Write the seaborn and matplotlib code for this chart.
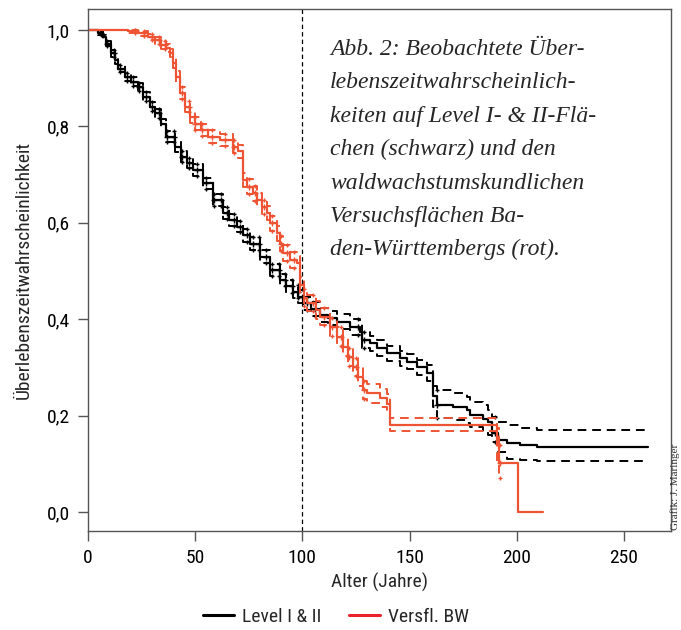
import os
import numpy as np
import pandas as pd
import matplotlib
matplotlib.use("Agg")
import matplotlib.pyplot as plt
from matplotlib import font_manager as fm
from matplotlib.lines import Line2D
import seaborn as sns

# ---------------- data ----------------
black_t = [0, 4.7, 7.0, 8.5, 10.9, 12.4, 14.0, 17.1, 20.2, 23.3,
           25.7, 28.8, 31.1, 34.2, 36.5, 40.4, 43.5, 46.0, 49.1, 53.8,
           58.4, 63.1, 66.0, 69.4, 72.5, 75.6, 80.2, 84.9, 89.6, 92.5,
           95.8, 98.1, 100.4, 104.0, 108.2, 112.0, 116.0, 122.2, 126.9, 128.0,
           131.5, 135.0, 139.3, 145.5, 149.0, 153.3, 158.0, 161.1, 162.6, 170.4,
           176.6, 178.2, 184.4, 186.7, 188.3, 191.4, 195.3, 201.5, 209.3, 261.3]
black_s = [1.000, 0.993, 0.985, 0.972, 0.952, 0.938, 0.920, 0.903, 0.893, 0.882,
           0.862, 0.841, 0.827, 0.806, 0.779, 0.758, 0.737, 0.724, 0.710, 0.682,
           0.647, 0.620, 0.606, 0.592, 0.574, 0.557, 0.530, 0.502, 0.481, 0.468,
           0.457, 0.447, 0.433, 0.421, 0.409, 0.402, 0.395, 0.384, 0.374, 0.357,
           0.350, 0.340, 0.329, 0.319, 0.312, 0.300, 0.288, 0.240, 0.222, 0.218,
           0.212, 0.201, 0.194, 0.187, 0.163, 0.149, 0.143, 0.139, 0.134, 0.134]
black_hi = [1.000, 0.997, 0.990, 0.978, 0.959, 0.946, 0.928, 0.911, 0.902, 0.891,
            0.871, 0.851, 0.837, 0.816, 0.790, 0.769, 0.748, 0.735, 0.722, 0.694,
            0.659, 0.632, 0.618, 0.604, 0.587, 0.570, 0.543, 0.515, 0.494, 0.481,
            0.470, 0.460, 0.447, 0.436, 0.424, 0.417, 0.410, 0.400, 0.390, 0.373,
            0.366, 0.356, 0.345, 0.335, 0.328, 0.316, 0.304, 0.262, 0.253, 0.246,
            0.238, 0.229, 0.222, 0.212, 0.198, 0.187, 0.180, 0.174, 0.170, 0.170]
black_lo = [1.000, 0.989, 0.980, 0.966, 0.945, 0.930, 0.912, 0.895, 0.884, 0.873,
            0.853, 0.831, 0.817, 0.796, 0.768, 0.747, 0.726, 0.713, 0.698, 0.670,
            0.635, 0.608, 0.594, 0.580, 0.561, 0.544, 0.517, 0.489, 0.468, 0.455,
            0.444, 0.434, 0.419, 0.406, 0.394, 0.387, 0.380, 0.368, 0.358, 0.341,
            0.334, 0.324, 0.313, 0.303, 0.296, 0.284, 0.272, 0.218, 0.196, 0.190,
            0.184, 0.177, 0.167, 0.160, 0.146, 0.125, 0.111, 0.108, 0.105, 0.105]

red_t = [0, 18.7, 23.3, 28.0, 31.1, 34.2, 36.5, 38.1, 39.6, 41.2,
         42.8, 45.1, 47.4, 49.8, 52.9, 56.0, 61.6, 67.8, 70.1, 72.4,
         74.0, 77.1, 78.7, 81.0, 83.3, 84.9, 88.0, 89.6, 91.1, 94.2,
         97.3, 99.0, 100.8, 102.0, 106.6, 108.2, 112.9, 116.0, 119.0, 121.4,
         123.7, 126.1, 128.4, 130.0, 136.2, 139.3, 140.9, 190.6, 191.6, 196.0,
         200.8, 212.4]
red_s = [1.000, 0.998, 0.993, 0.986, 0.979, 0.969, 0.962, 0.952, 0.931, 0.903,
         0.869, 0.841, 0.820, 0.806, 0.793, 0.779, 0.772, 0.758, 0.748, 0.689,
         0.675, 0.661, 0.647, 0.633, 0.620, 0.599, 0.578, 0.557, 0.537, 0.523,
         0.516, 0.470, 0.445, 0.433, 0.419, 0.405, 0.384, 0.364, 0.343, 0.322,
         0.301, 0.281, 0.253, 0.246, 0.236, 0.225, 0.180, 0.140, 0.101, 0.101,
         0.000, 0.000]
red_hi = [1.000, 1.000, 0.998, 0.992, 0.986, 0.977, 0.970, 0.961, 0.941, 0.914,
          0.881, 0.853, 0.833, 0.819, 0.806, 0.792, 0.785, 0.772, 0.762, 0.704,
          0.690, 0.676, 0.662, 0.648, 0.635, 0.615, 0.594, 0.573, 0.553, 0.539,
          0.532, 0.487, 0.462, 0.450, 0.437, 0.423, 0.402, 0.383, 0.362, 0.341,
          0.320, 0.300, 0.272, 0.265, 0.255, 0.244, 0.195, 0.175, 0.140, np.nan,
          np.nan, np.nan]
red_lo = [1.000, 0.994, 0.988, 0.980, 0.972, 0.961, 0.954, 0.943, 0.921, 0.892,
          0.857, 0.829, 0.807, 0.793, 0.780, 0.766, 0.759, 0.744, 0.734, 0.674,
          0.660, 0.646, 0.632, 0.618, 0.605, 0.583, 0.562, 0.541, 0.521, 0.507,
          0.500, 0.453, 0.428, 0.416, 0.401, 0.387, 0.366, 0.345, 0.324, 0.303,
          0.282, 0.262, 0.234, 0.227, 0.217, 0.206, 0.168, 0.100, 0.070, np.nan,
          np.nan, np.nan]

# censoring times (marked with "+")
black_censor = [6, 9, 12, 15, 18, 21, 24, 27, 30, 33, 37, 40, 44, 47, 51, 55,
                59, 62, 65, 68, 71, 74, 77, 80, 83, 86, 89, 92, 95, 98, 102,
                106, 126, 129, 163, 190]
red_censor = [22, 26, 30, 33, 36, 44, 47, 50, 53, 58, 64, 68, 75, 78, 82,
              86, 90, 93, 96, 101, 105, 110, 114, 118, 122, 125, 129, 192]

x_ticks = [0, 50, 100, 150, 200, 250]
y_ticks = [0.0, 0.2, 0.4, 0.6, 0.8, 1.0]
y_tick_labels = ["0,0", "0,2", "0,4", "0,6", "0,8", "1,0"]
ref_age = 100

series_names = ["Level I & II", "Versfl. BW"]
caption_lines = ["Abb. 2: Beobachtete Über-",
                 "lebenszeitwahrscheinlich-",
                 "keiten auf Level I- & II-Flä-",
                 "chen (schwarz) und den",
                 "waldwachstumskundlichen",
                 "Versuchsflächen Ba-",
                 "den-Württembergs (rot)."]

# ---------------- style ----------------
sns.set_theme(style="ticks")

names = {f.name for f in fm.fontManager.ttflist}
dv_cond = [f for f in fm.fontManager.ttflist
           if "DejaVuSansCondensed.ttf" == os.path.basename(f.fname)]
STRETCH = "normal"
if "Liberation Sans Narrow" in names:
    SANS = ["Liberation Sans Narrow", "DejaVu Sans"]
elif "Roboto Condensed" in names:
    SANS = ["Roboto Condensed", "DejaVu Sans"]
elif dv_cond:
    SANS = ["DejaVu Sans"]
    STRETCH = "condensed"
else:
    SANS = ["Roboto", "DejaVu Sans"]
plt.rcParams["font.family"] = SANS
plt.rcParams["font.stretch"] = STRETCH
SERIF = ["Liberation Serif", "DejaVu Serif"]

BLACK = "#000000"
RED = "#EE5333"
LEG_RED = "#E8212B"

fig = plt.figure(figsize=(6.81, 6.30), dpi=100)
ax = fig.add_axes([88 / 681, 99 / 630, 583 / 681, 522 / 630])

def step_line(t, v, color, ls, lw):
    df = pd.DataFrame({"t": t, "v": v})
    sns.lineplot(data=df, x="t", y="v", ax=ax, color=color, estimator=None,
                 sort=False, drawstyle="steps-post", linestyle=ls, linewidth=lw,
                 legend=False)

def step_value(t, v, x):
    t = np.asarray(t, float)
    v = np.asarray(v, float)
    idx = np.searchsorted(t, x, side="right") - 1
    return v[idx]

dash = (0, (4.5, 3.0))

# black: Level I & II
step_line(black_t, black_hi, BLACK, dash, 1.4)
step_line(black_t, black_lo, BLACK, dash, 1.4)
step_line(black_t, black_s, BLACK, "-", 1.6)
# red: Versuchsflaechen
step_line(red_t, red_hi, RED, dash, 1.4)
step_line(red_t, red_lo, RED, dash, 1.4)
step_line(red_t, red_s, RED, "-", 1.6)

# censor marks
for times, t, arrs, col in [(black_censor, black_t, [black_s, black_hi, black_lo], BLACK),
                            (red_censor, red_t, [red_s, red_hi, red_lo], RED)]:
    for k, arr in enumerate(arrs):
        ys = step_value(t, arr, np.asarray(times, float))
        sns.scatterplot(x=np.asarray(times, float), y=ys, ax=ax, marker="+",
                        s=14 if k == 0 else 10, color=col, linewidth=1.0,
                        legend=False)

ax.axvline(ref_age, color="black", linestyle=(0, (3.5, 2.5)), linewidth=0.9)

ax.set_xlim(0, 272)
ax.set_ylim(-0.0394, 1.0436)
ax.set_xticks(x_ticks)
ax.set_xticklabels([str(v) for v in x_ticks])
ax.set_yticks(y_ticks)
ax.set_yticklabels(y_tick_labels)
ax.tick_params(axis="both", direction="out", length=7, width=1.0,
               color="#555555", labelsize=14, labelcolor="black", pad=6)
for sp in ax.spines.values():
    sp.set_visible(True)
    sp.set_color("#555555")
    sp.set_linewidth(1.0)
ax.set_xlabel("Alter (Jahre)", fontsize=14, labelpad=4)
ax.set_ylabel("Überlebenszeitwahrscheinlichkeit", fontsize=14, labelpad=10)
ax.grid(False)

# caption text
y0 = 55
for i, line in enumerate(caption_lines):
    fig.text(330 / 681, 1 - (y0 + i * 33.4) / 630, line, fontsize=17,
             family=SERIF, style="italic", stretch="normal",
             ha="left", va="baseline")

# credit (bottom right, reading upwards)
fig.text(675 / 681, 1 - 530 / 630, "Grafik: J. Maringer", rotation=90, fontsize=8,
         family=SERIF, stretch="normal", color="#333333",
         ha="center", va="bottom")

handles = [Line2D([], [], color=BLACK, lw=2.2), Line2D([], [], color=LEG_RED, lw=2.2)]
fig.legend(handles, series_names, loc="center", bbox_to_anchor=(336 / 681, 1 - 617 / 630),
           ncol=2, frameon=False, fontsize=14, handlelength=1.6,
           handletextpad=0.4, columnspacing=1.4)

fig.savefig("out.png", dpi=100)
